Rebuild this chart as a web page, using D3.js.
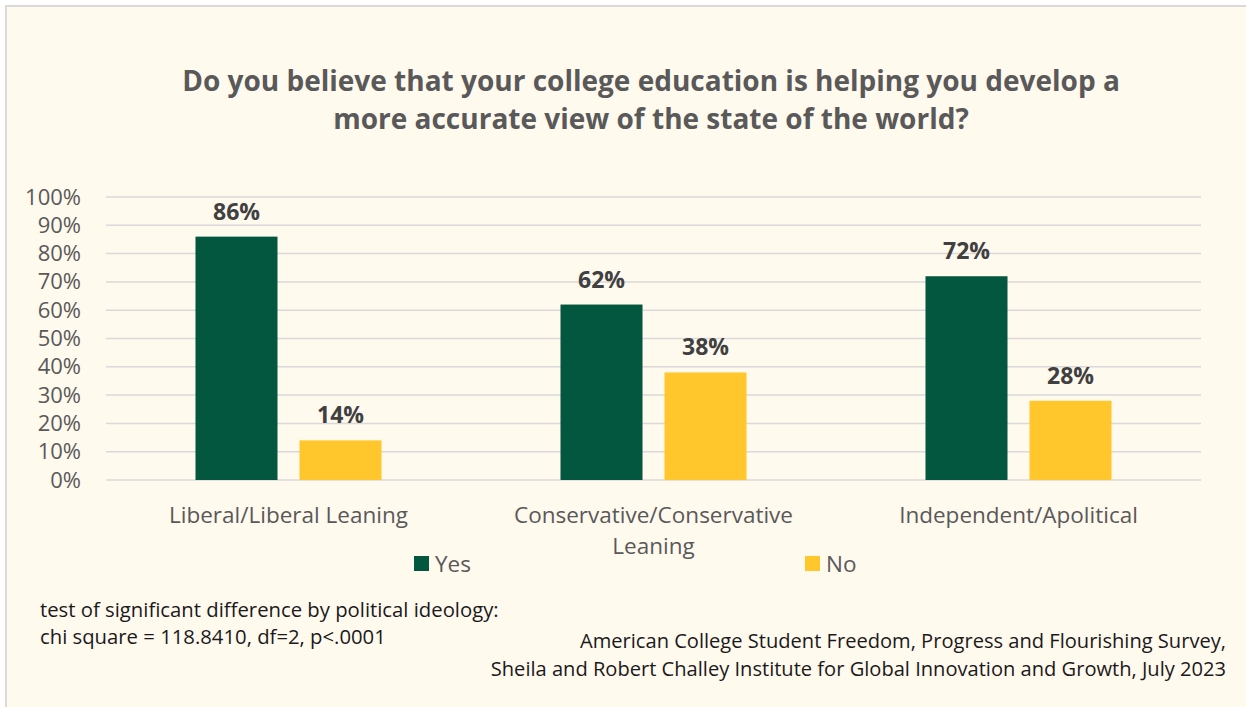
<!DOCTYPE html>
<html>
<head>
<meta charset="utf-8">
<script src="https://cdn.jsdelivr.net/npm/d3@7"></script>
<style>
  html, body { margin: 0; padding: 0; background: #ffffff; }
  svg { display: block; font-family: "Open Sans", "Noto Sans", sans-serif; }
</style>
</head>
<body>
<svg id="chart" width="1246" height="707"></svg>
<script>
// Survey responses by political ideology
const categories = ["Liberal/Liberal Leaning", "Conservative/Conservative Leaning", "Independent/Apolitical"];
const categoryLines = [["Liberal/Liberal Leaning"], ["Conservative/Conservative", "Leaning"], ["Independent/Apolitical"]];
const seriesNames = ["Yes", "No"];
const yesValues = [86, 62, 72];
const noValues = [14, 38, 28];
const yTicks = [0, 10, 20, 30, 40, 50, 60, 70, 80, 90, 100];
const titleLines = [
  "Do you believe that your college education is helping you develop a",
  "more accurate view of the state of the world?"
];
const noteLines = [
  "test of significant difference by political ideology:",
  "chi square = 118.8410, df=2, p<.0001"
];
const sourceLines = [
  "American College Student Freedom, Progress and Flourishing Survey,",
  "Sheila and Robert Challey Institute for Global Innovation and Growth, July 2023"
];

const colors = { Yes: "#03573F", No: "#FFC72C" };
const seriesValues = { Yes: yesValues, No: noValues };

const svg = d3.select("#chart");

// Chart area frame
svg.append("rect")
  .attr("x", 6).attr("y", 6)
  .attr("width", 1246).attr("height", 710)
  .attr("fill", "#FFF9EE")
  .attr("stroke", "#D9D9D9")
  .attr("stroke-width", 2);

// Title
svg.append("text")
  .attr("text-anchor", "middle")
  .attr("font-size", 28)
  .attr("font-weight", 700)
  .attr("fill", "#595959")
  .selectAll("tspan")
  .data(titleLines)
  .join("tspan")
  .attr("x", 651)
  .attr("y", (d, i) => 91 + i * 38)
  .text(d => d);

const plot = { left: 106, right: 1201, top: 197, bottom: 480 };

const y = d3.scaleLinear().domain([0, 100]).range([plot.bottom, plot.top]);

const x0 = d3.scaleBand()
  .domain(categories)
  .range([plot.left, plot.right])
  .paddingInner(0.4904)
  .paddingOuter(0.2452);

const x1 = d3.scaleBand()
  .domain(seriesNames)
  .range([0, x0.bandwidth()])
  .paddingInner(0.2115);

// Gridlines
svg.append("g")
  .selectAll("line")
  .data(yTicks)
  .join("line")
  .attr("x1", plot.left).attr("x2", plot.right)
  .attr("y1", d => y(d)).attr("y2", d => y(d))
  .attr("stroke", "#D9D9D9")
  .attr("stroke-width", 1.5);

// Y axis labels
const yAxis = d3.axisLeft(y)
  .tickValues(yTicks)
  .tickFormat(d => d + "%")
  .tickSize(0)
  .tickPadding(0);
const yg = svg.append("g")
  .attr("transform", `translate(81,0)`)
  .call(yAxis);
yg.select(".domain").remove();
yg.selectAll("text")
  .attr("font-family", "'Open Sans', 'Noto Sans', sans-serif")
  .attr("font-size", 22)
  .attr("fill", "#595959");

// Bars
const groups = svg.append("g")
  .selectAll("g")
  .data(categories)
  .join("g")
  .attr("transform", d => `translate(${x0(d)},0)`);

groups.selectAll("rect")
  .data((c, i) => seriesNames.map(s => ({ s, v: seriesValues[s][i] })))
  .join("rect")
  .attr("x", d => x1(d.s))
  .attr("y", d => y(d.v))
  .attr("width", x1.bandwidth())
  .attr("height", d => y(0) - y(d.v))
  .attr("fill", d => colors[d.s]);

// Value labels
groups.selectAll("text.value")
  .data((c, i) => seriesNames.map(s => ({ s, v: seriesValues[s][i] })))
  .join("text")
  .attr("class", "value")
  .attr("x", d => x1(d.s) + x1.bandwidth() / 2)
  .attr("y", d => y(d.v) - 17)
  .attr("text-anchor", "middle")
  .attr("font-size", 23)
  .attr("font-weight", 700)
  .attr("fill", "#404040")
  .text(d => d.v + "%");

// Category labels
const catText = svg.append("g")
  .selectAll("text")
  .data(categories)
  .join("text")
  .attr("text-anchor", "middle")
  .attr("font-size", 22.5)
  .attr("fill", "#595959");
catText.selectAll("tspan")
  .data((c, i) => categoryLines[i].map(t => ({ t, c })))
  .join("tspan")
  .attr("x", d => x0(d.c) + x0.bandwidth() / 2)
  .attr("y", (d, i) => 523 + i * 31)
  .text(d => d.t);

// Legend
const legendX = { Yes: 414, No: 805 };
const legend = svg.append("g")
  .selectAll("g")
  .data(seriesNames)
  .join("g")
  .attr("transform", d => `translate(${legendX[d]},556)`);
legend.append("rect")
  .attr("width", 15).attr("height", 15)
  .attr("fill", d => colors[d]);
legend.append("text")
  .attr("x", 21).attr("y", 16)
  .attr("font-size", 22.5)
  .attr("fill", "#595959")
  .text(d => d);

// Notes
svg.append("g")
  .selectAll("text")
  .data(noteLines)
  .join("text")
  .attr("x", 40)
  .attr("y", (d, i) => 617 + i * 27)
  .attr("font-size", 20.3)
  .attr("fill", "#1A1A1A")
  .text(d => d);

svg.append("g")
  .selectAll("text")
  .data(sourceLines)
  .join("text")
  .attr("x", 1226)
  .attr("y", (d, i) => 648 + i * 28)
  .attr("text-anchor", "end")
  .attr("font-size", 20.1)
  .attr("fill", "#1A1A1A")
  .text(d => d);
</script>
</body>
</html>
